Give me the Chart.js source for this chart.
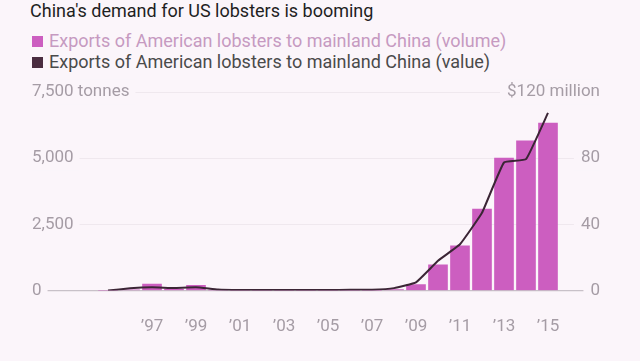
<!DOCTYPE html>
<html>
<head>
<meta charset="utf-8">
<script src="https://cdn.jsdelivr.net/npm/chart.js@4"></script>
<style>
  html, body { margin: 0; padding: 0; background: #fbf5fa; }
  body { width: 640px; height: 361px; position: relative; overflow: hidden; font-family: Roboto, sans-serif; }
  #title { position: absolute; left: 30px; top: 2px; font-size: 18px; line-height: 18px; color: #1f1f1f; white-space: nowrap; }
  .leg { position: absolute; left: 49px; font-size: 18px; line-height: 18px; white-space: nowrap; }
  .sq { position: absolute; left: 32px; width: 11px; height: 11px; }
  canvas { position: absolute; left: 0; top: 0; }
</style>
</head>
<body>
<div id="title">China's demand for US lobsters is booming</div>
<div class="sq" style="top:36px;background:#cc5ec0"></div>
<div class="leg" style="top:32px;color:#c69ac1">Exports of American lobsters to mainland China (volume)</div>
<div class="sq" style="top:57px;background:#4a2c40"></div>
<div class="leg" style="top:53px;color:#4a4a4a">Exports of American lobsters to mainland China (value)</div>
<canvas id="chart" width="640" height="361"></canvas>
<script>
// years 1995 - 2015
var years = [1995, 1996, 1997, 1998, 1999, 2000, 2001, 2002, 2003, 2004, 2005,
             2006, 2007, 2008, 2009, 2010, 2011, 2012, 2013, 2014, 2015];
// tonnes
var volume = [0, 30, 250, 50, 200, 20, 5, 5, 5, 5, 5,
              5, 10, 40, 225, 975, 1690, 3075, 5000, 5660, 6325];
// $ million
var value = [0, 1.4, 2.0, 1.6, 2.0, 0.6, 0.3, 0.3, 0.3, 0.3, 0.3,
             0.5, 0.5, 1.5, 5.0, 18, 28, 47, 77.4, 79.4, 107.4];
var xTicks = [1997, 1999, 2001, 2003, 2005, 2007, 2009, 2011, 2013, 2015];

var bg = '#fbf5fa';
var tickColor = '#a59ca5';

var ctx = document.getElementById('chart').getContext('2d');
var chart = new Chart(ctx, {
    type: 'bar',
    data: {
        datasets: [{
            type: 'line',
            label: 'value',
            data: years.map((y, i) => ({ x: y, y: value[i] })),
            yAxisID: 'y2',
            borderColor: '#3b2535',
            borderWidth: 2,
            pointRadius: 0,
            tension: 0.1,
            order: 0
        }, {
            label: 'volume',
            data: years.map((y, i) => ({ x: y, y: volume[i] })),
            yAxisID: 'y',
            backgroundColor: '#cc5ec0',
            barThickness: 19,
            order: 1
        }]
    },
    options: {
        responsive: false,
        animation: false,
        // x tick padding counts twice in the axis height, so pull the bottom in a bit
        layout: { padding: { left: 32, right: 40, top: 92, bottom: -2 } },
        plugins: { legend: { display: false }, tooltip: { enabled: false } },
        scales: {
            x: {
                type: 'linear',
                min: 1991.545,
                max: 2017.364,
                offset: false,
                grid: { display: false, drawTicks: false },
                border: { display: false },
                afterBuildTicks: function (s) { s.ticks = xTicks.map(v => ({ value: v })); },
                ticks: {
                    color: tickColor,
                    padding: 26,
                    maxRotation: 0,
                    font: { family: 'Roboto', size: 17 },
                    callback: v => '\u2019' + String(v).slice(2)
                }
            },
            y: {
                position: 'left',
                min: 0,
                max: 7500,
                grid: {
                    z: -1,
                    drawTicks: false,
                    color: c => c.tick.value === 0 ? '#c8c1c8' : '#efe8ee',
                    lineWidth: c => c.tick.value === 0 ? 1.2 : 1
                },
                border: { display: false },
                ticks: {
                    stepSize: 2500,
                    mirror: true,
                    padding: 0,
                    color: tickColor,
                    font: { family: 'Roboto', size: 17 },
                    showLabelBackdrop: true,
                    backdropColor: bg,
                    backdropPadding: { left: 0, right: 6, top: 2, bottom: 2 },
                    callback: v => v === 7500 ? '7,500 tonnes' : v.toLocaleString('en-US')
                }
            },
            y2: {
                position: 'right',
                min: 0,
                max: 120,
                grid: { display: false, drawTicks: false },
                border: { display: false },
                ticks: {
                    stepSize: 40,
                    mirror: true,
                    padding: 0,
                    color: tickColor,
                    font: { family: 'Roboto', size: 17 },
                    showLabelBackdrop: true,
                    backdropColor: bg,
                    backdropPadding: { left: 7, right: 0, top: 2, bottom: 2 },
                    callback: v => v === 120 ? '$120 million' : String(v)
                }
            }
        }
    }
});
</script>
</body>
</html>
